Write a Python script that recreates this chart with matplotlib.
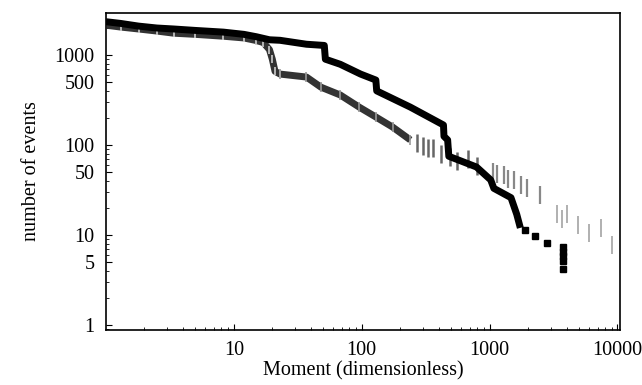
import matplotlib
matplotlib.use("Agg")
import matplotlib.pyplot as plt
from matplotlib.ticker import FixedLocator, NullFormatter, LogLocator

# upper (black) cumulative curve
black_x = [1.0, 1.3, 1.8, 2.5, 3.4, 5.0, 8.3, 12, 15, 19, 23, 37, 51, 52, 68, 98,
           129, 131, 240, 436, 440, 470, 480, 790, 1020, 1080, 1470, 1630, 1740]
black_y = [2350, 2250, 2100, 2000, 1950, 1880, 1800, 1700, 1600, 1480, 1460, 1320, 1280,
           900, 790, 615, 528, 400, 264, 167, 125, 114, 75, 57, 41, 33, 26, 17, 12]
# isolated tail points of the black curve
black_tail_x = [1900, 2250, 2800, 3730, 3730, 3730, 3730, 3730]
black_tail_y = [11.4, 9.8, 8.2, 7.4, 6.5, 5.8, 5.1, 4.2]

# lower (grey) cumulative curve, dense part
grey_x = [1.0, 1.3, 1.8, 2.5, 3.4, 5.0, 8.3, 12, 15, 17, 19, 20, 21, 23, 37, 48, 68,
          96, 129, 175, 240]
grey_y = [2150, 2050, 1950, 1850, 1750, 1700, 1620, 1550, 1450, 1380, 1150, 900, 660,
          615, 570, 440, 360, 263, 205, 158, 114]
# sparse tail of the grey curve (vertical dashes)
grey_tail_x = [270, 300, 330, 360, 420, 490, 560, 680, 800, 1070, 1150, 1290, 1400,
               1540, 1750, 1960, 2500, 3380, 3700, 4050, 4900, 6000, 7400, 9100]
grey_tail_y = [105, 98, 92, 93, 80, 73, 66, 70, 58, 50, 48, 47, 42, 41, 36, 33, 28,
               17, 15, 17, 13, 10.5, 12, 7.8]

plt.rcParams['font.family'] = ['Liberation Serif', 'DejaVu Serif']
plt.rcParams['font.size'] = 14.5

fig = plt.figure(figsize=(6.42, 3.85), dpi=100)
ax = fig.add_axes([0.165, 0.143, 0.801, 0.823])

ax.plot(grey_x, grey_y, color='#333333', lw=5, solid_capstyle='butt')
ax.plot(grey_x[:14], grey_y[:14], '|', color='#cccccc', ms=6, mew=1.2)
ax.plot(grey_x[13:], grey_y[13:], '|', color='#999999', ms=7, mew=1.2)
# darker dashes near the dense part, fading further out
ax.plot(grey_tail_x[:9], grey_tail_y[:9], '|', color='#666666', ms=13, mew=1.8)
ax.plot(grey_tail_x[9:17], grey_tail_y[9:17], '|', color='#888888', ms=13, mew=1.6)
ax.plot(grey_tail_x[17:], grey_tail_y[17:], '|', color='#b0b0b0', ms=13, mew=1.4)
ax.plot(black_x, black_y, color='black', lw=5, solid_capstyle='butt')
ax.plot(black_tail_x, black_tail_y, 's', color='black', ms=5)

ax.set_xscale('log')
ax.set_yscale('log')
ax.set_xlim(1.0, 10500)
ax.set_ylim(0.88, 2930)

ax.xaxis.set_major_locator(FixedLocator([10, 100, 1000, 10000]))
ax.set_xticklabels(['10', '100', '1000', '10000'])
ax.xaxis.set_minor_locator(LogLocator(subs=range(2, 10)))
ax.xaxis.set_minor_formatter(NullFormatter())
ax.yaxis.set_major_locator(FixedLocator([1, 5, 10, 50, 100, 500, 1000]))
ax.set_yticklabels(['1', '5', '10', '50', '100', '500', '1000'])
ax.yaxis.set_minor_locator(LogLocator(subs=range(2, 10)))
ax.yaxis.set_minor_formatter(NullFormatter())
ax.tick_params(which='both', direction='in', top=False, right=False)
ax.tick_params(which='major', length=4, width=0.8, pad=8)
ax.tick_params(which='minor', length=2, width=0.6)
for s in ax.spines.values():
    s.set_linewidth(1.2)

ax.set_xlabel('Moment (dimensionless)', labelpad=1)
ax.set_ylabel('number of events', labelpad=10)

fig.savefig('out.png', dpi=100)
